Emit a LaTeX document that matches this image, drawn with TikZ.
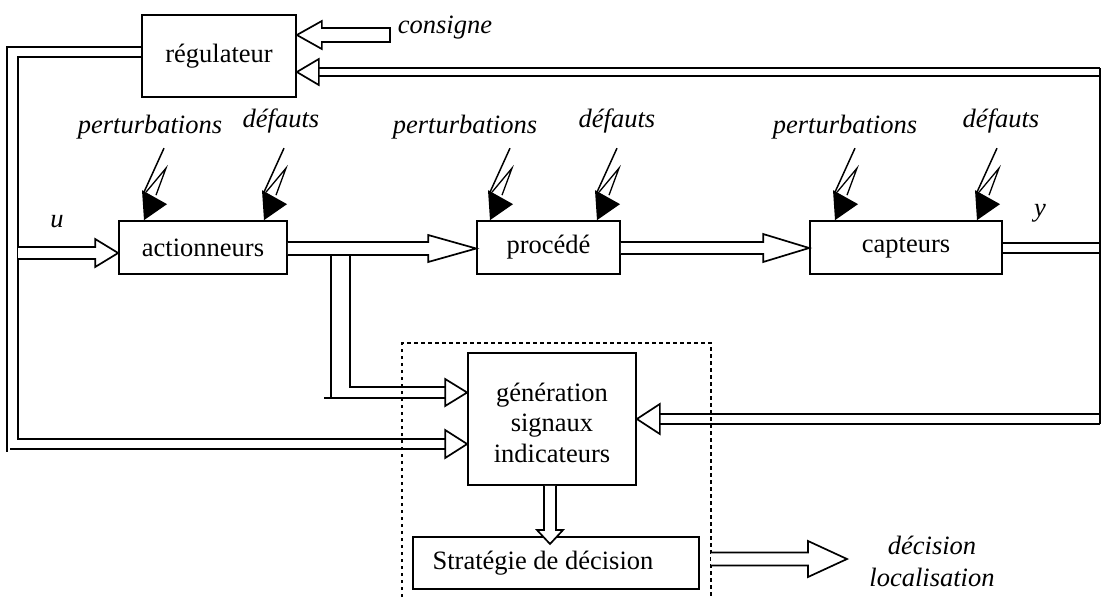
\documentclass[tikz,border=0pt]{standalone}
\usepackage{fontspec}
\setmainfont{Liberation Serif}
\usetikzlibrary{calc}
\begin{document}
\begin{tikzpicture}[x=1pt,y=-1pt,
  line width=1.7pt, line join=miter,
  font=\fontsize{26.5}{30.5}\selectfont,
  box/.style={draw, line width=1.7pt, inner sep=0pt, align=center},
  blk/.style={draw, fill=white, line width=1.7pt},
  lbl/.style={font=\fontsize{26.5}{32}\selectfont\itshape, inner sep=0pt},
  dots/.style={line width=2.4pt, dash pattern=on 3.5pt off 3.5pt},
  fault/.pic={
    \draw[line width=1.5pt] (20,-72) -- (0,-28);
    \draw[line width=1.3pt] (2,-28) -- (22,-52) -- (12,-25);
    \fill (-2,-30) -- (23,-16) -- (0,0) -- cycle;
  }
]
\useasboundingbox (0,0) rectangle (1102,597);

% blocks
\node[box, minimum width=154pt, minimum height=82pt] (reg) at (219,56) {régulateur};
\node[box, minimum width=168pt, minimum height=53pt] (act) at (203,247.5) {actionneurs};
\node[box, minimum width=143pt, minimum height=53pt] (proc) at (548.5,247.5) {procédé};
\node[box, minimum width=192pt, minimum height=53pt] (capt) at (906,247.5) {capteurs};
\node[box, minimum width=168pt, minimum height=132pt] (gen) at (552,419)
  {\raisebox{-10pt}[0pt][0pt]{\parbox[c]{160pt}{\centering génération\\signaux\\indicateurs}}};
\node[box, minimum width=286pt, minimum height=52pt] (strat) at (556,563) {\hspace*{-26pt}Stratégie de décision};

% diagnosis frame (open at the bottom)
\draw[dots] (402,597) -- (402,343) -- (711,343) -- (711,597);

% labels
\node[lbl, anchor=base west] (cons) at (397,33) {consigne};
\node[lbl] (ulbl) at (57,222) {u};
\node[lbl] (ylbl) at (1040,213) {y};
\node[lbl, anchor=base] (p1) at (150,133) {perturbations};
\node[lbl, anchor=base] (d1) at (281,127) {défauts};
\node[lbl, anchor=base] (p2) at (465,133) {perturbations};
\node[lbl, anchor=base] (d2) at (617,127) {défauts};
\node[lbl, anchor=base] (p3) at (845,133) {perturbations};
\node[lbl, anchor=base] (d3) at (1001,127) {défauts};
\node[lbl, align=center] (dec) at (932,561) {décision\\localisation};

% disturbance / fault inputs
\pic at (act.north -| 144,0) {fault};
\pic at (act.north -| 264,0) {fault};
\pic at (proc.north -| 490,0) {fault};
\pic at (proc.north -| 597,0) {fault};
\pic at (capt.north -| 835,0) {fault};
\pic at (capt.north -| 977,0) {fault};

% set point into the controller
\coordinate (cT) at (reg.east |- 0,35);
\draw[blk] (cT) -- ($(cT)+(25,-14)$) -- ($(cT)+(25,-7)$) -- ($(cons.west |- cT)+(-7,-7)$)
  -- ($(cons.west |- cT)+(-7,7)$) -- ($(cT)+(25,7)$) -- ($(cT)+(25,14)$) -- cycle;

% measurement feedback to the controller
\coordinate (fT) at (reg.east |- 0,72);
\coordinate (rTop) at (1100,68);
\coordinate (rBot) at (1100,424);
\draw ($(fT)+(22,-4)$) -- (rTop);
\draw ($(fT)+(22,4)$) -- (1100,76);
\draw[blk] (fT) -- ($(fT)+(22,-13)$) -- ($(fT)+(22,13)$) -- cycle;
\draw (rTop) -- (rBot);

% output y
\draw (capt.east |- 0,243) -- (1100,243);
\draw (capt.east |- 0,253) -- (1100,253);

% y into the residual generator
\coordinate (gR) at (gen.east |- 0,419);
\draw ($(gR)+(23,-5)$) -- (1100,414);
\draw ($(gR)+(23,5)$) -- (rBot);
\draw[blk] (gR) -- ($(gR)+(23,-15)$) -- ($(gR)+(23,15)$) -- cycle;

% controller output loop
\coordinate (gL2) at (gen.west |- 0,444);
\draw (reg.west |- 0,47) -- (7,47) -- (7,452);
\draw (reg.west |- 0,57) -- (18,57) -- (18,439) -- ($(gL2)+(-22,-5)$);
\draw (10,449) -- ($(gL2)+(-22,5)$);
\draw[blk] (gL2) -- ($(gL2)+(-22,-14)$) -- ($(gL2)+(-22,14)$) -- cycle;

% u into the actuators
\coordinate (uT) at (act.west |- 0,253);
\draw[blk] (18,247) -- ($(uT)+(-23,-6)$) -- ($(uT)+(-23,-14)$) -- (uT)
  -- ($(uT)+(-23,14)$) -- ($(uT)+(-23,6)$) -- (18,259);

% actuators -> process
\coordinate (apT) at (proc.west |- 0,248.5);
\draw[blk] (act.east |- 0,242) -- ($(apT)+(-48,-6.5)$) -- ($(apT)+(-48,-13.5)$) -- (apT)
  -- ($(apT)+(-48,13.5)$) -- ($(apT)+(-48,6.5)$) -- (act.east |- 0,255);

% process -> sensors
\coordinate (pcT) at (capt.west |- 0,248);
\draw[blk] (proc.east |- 0,242) -- ($(pcT)+(-46,-6)$) -- ($(pcT)+(-46,-14)$) -- (pcT)
  -- ($(pcT)+(-46,14)$) -- ($(pcT)+(-46,6)$) -- (proc.east |- 0,254);

% actuator signals into the residual generator
\coordinate (gL1) at (gen.west |- 0,392.5);
\draw (350,255) -- (350,387) -- ($(gL1)+(-22,-5.5)$);
\draw (331,255) -- (331,398);
\draw (324,398) -- ($(gL1)+(-22,5.5)$);
\draw[blk] (gL1) -- ($(gL1)+(-22,-13.5)$) -- ($(gL1)+(-22,13.5)$) -- cycle;

% residuals -> decision
\coordinate (gsT) at (550,544);
\draw[blk] (gen.south -| 544,0) -- ($(gsT)+(-6,-14)$) -- ($(gsT)+(-13,-14)$) -- (gsT)
  -- ($(gsT)+(13,-14)$) -- ($(gsT)+(6,-14)$) -- (gen.south -| 556,0);

% decision output
\coordinate (oT) at (847,559);
\draw[blk] (711,552.5) -- ($(oT)+(-39,-6.5)$) -- ($(oT)+(-39,-18)$) -- (oT)
  -- ($(oT)+(-39,18)$) -- ($(oT)+(-39,6.5)$) -- (711,565.5);
\end{tikzpicture}
\end{document}
